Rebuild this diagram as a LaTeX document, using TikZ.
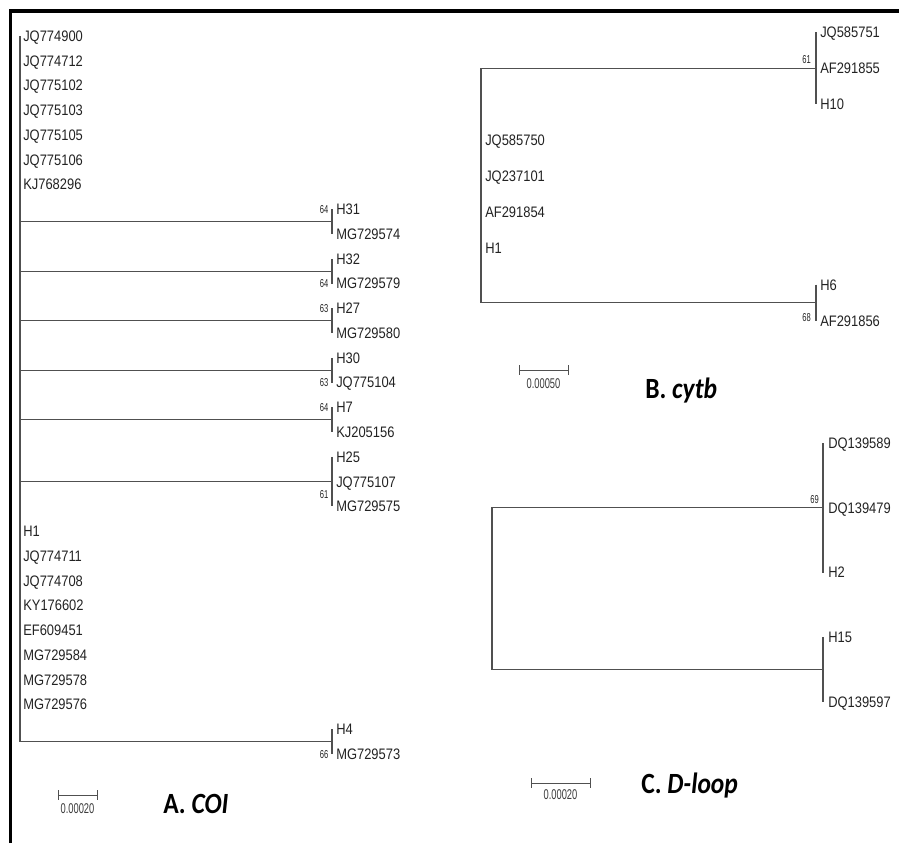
\documentclass[tikz,border=0pt]{standalone}
\usepackage{fontspec}
\newfontfamily\labfont[FakeStretch=0.85]{Liberation Sans}
\newfontfamily\sclfont[FakeStretch=0.66]{Liberation Sans}
\newfontfamily\ttlfont[FakeStretch=0.87]{Carlito}
\definecolor{txt}{RGB}{35,35,35}
\definecolor{linec}{RGB}{80,80,80}
\definecolor{sclc}{RGB}{60,60,60}
\begin{document}
\begin{tikzpicture}[x=0.75pt,y=-0.75pt,
  lab/.style={font=\labfont\fontsize{11.4pt}{13pt}\selectfont, text=txt, anchor=west, inner sep=0pt, text height=8pt, text depth=0pt},
  bs/.style={font=\sclfont\fontsize{8.6pt}{10pt}\selectfont, text=txt, anchor=east, inner sep=0pt, text height=6pt, text depth=0pt},
  scl/.style={font=\sclfont\fontsize{10.6pt}{12pt}\selectfont, text=sclc, anchor=base, inner sep=0pt},
  ttl/.style={font=\ttlfont\bfseries\fontsize{22pt}{24pt}\selectfont, text=black, anchor=base west, inner sep=0pt},
  br/.style={draw=linec, line width=0.8pt},
  sbar/.style={draw=linec, line width=0.75pt}]
\useasboundingbox (0,0) rectangle (899,843);
\fill[white] (0,0) rectangle (899,843);
% frame
\draw[line width=2.3pt, black] (10.5,843) -- (10.5,11) -- (899,11);

% ---------------- Panel A: COI ----------------
\foreach \r/\t/\xx in {1/JQ774900/23, 2/JQ774712/23, 3/JQ775102/23, 4/JQ775103/23,
  5/JQ775105/23, 6/JQ775106/23, 7/KJ768296/23, 8/H31/336, 9/MG729574/336,
  10/H32/336, 11/MG729579/336, 12/H27/336, 13/MG729580/336, 14/H30/336,
  15/JQ775104/336, 16/H7/336, 17/KJ205156/336, 18/H25/336, 19/JQ775107/336,
  20/MG729575/336, 21/H1/23, 22/JQ774711/23, 23/JQ774708/23, 24/KY176602/23,
  25/EF609451/23, 26/MG729584/23, 27/MG729578/23, 28/MG729576/23,
  29/H4/336, 30/MG729573/336}
  \node[lab] (a\r) at (\xx,{36+24.76*(\r-1)}) {\t};

\coordinate (A0) at (20,36);
\coordinate (kA1) at (332,221.7);
\coordinate (kA2) at (332,271.2);
\coordinate (kA3) at (332,320.8);
\coordinate (kA4) at (332,370.3);
\coordinate (kA5) at (332,419.8);
\coordinate (kA6) at (332,481.7);
\coordinate (kA7) at (332,741.7);
\draw[br] (A0) -- (kA7 -| A0) -- (kA7);
\foreach \k in {1,...,6} \draw[br] (kA\k -| A0) -- (kA\k);
\draw[br] (a8.west -| kA1) -- (a9.west -| kA1);
\draw[br] (a10.west -| kA2) -- (a11.west -| kA2);
\draw[br] (a12.west -| kA3) -- (a13.west -| kA3);
\draw[br] (a14.west -| kA4) -- (a15.west -| kA4);
\draw[br] (a16.west -| kA5) -- (a17.west -| kA5);
\draw[br] (a18.west -| kA6) -- (a20.west -| kA6);
\draw[br] (a29.west -| kA7) -- (a30.west -| kA7);

\node[bs] (bA1) at (328.5,209.3) {64};
\node[bs] (bA2) at (328.5,283.6) {64};
\node[bs] (bA3) at (328.5,308.4) {63};
\node[bs] (bA4) at (328.5,382.6) {63};
\node[bs] (bA5) at (328.5,407.4) {64};
\node[bs] (bA6) at (328.5,494.5) {61};
\node[bs] (bA7) at (328.5,754) {66};

\coordinate (sA1) at (58,795);
\coordinate (sA2) at (97,795);
\draw[sbar] (sA1) -- (sA2);
\draw[sbar] ([yshift=-3.5]sA1) -- ([yshift=3.5]sA1);
\draw[sbar] ([yshift=-3.5]sA2) -- ([yshift=3.5]sA2);
\node[scl] (lA) at (77.5,813) {0.00020};
\node[ttl] (tA) at (163,813) {A. \textit{COI}};

% ---------------- Panel B: cytb ----------------
\foreach \r/\t/\xx in {1/JQ585751/820, 2/AF291855/820, 3/H10/820,
  4/JQ585750/485, 5/JQ237101/485, 6/AF291854/485, 7/H1/485,
  8/H6/820, 9/AF291856/820}
  \node[lab] (b\r) at (\xx,{32+36.1*(\r-1)}) {\t};

\coordinate (B0) at (481,68.1);
\coordinate (kB1) at (816,68.1);
\coordinate (kB2) at (816,302.8);
\draw[br] (kB1) -- (B0) -- (kB2 -| B0) -- (kB2);
\draw[br] (b1.west -| kB1) -- (b3.west -| kB1);
\draw[br] (b8.west -| kB2) -- (b9.west -| kB2);
\node[bs] (bB1) at (811,59) {61};
\node[bs] (bB2) at (811,317) {68};

\coordinate (sB1) at (519,370);
\coordinate (sB2) at (568,370);
\draw[sbar] (sB1) -- (sB2);
\draw[sbar] ([yshift=-3.5]sB1) -- ([yshift=3.5]sB1);
\draw[sbar] ([yshift=-3.5]sB2) -- ([yshift=3.5]sB2);
\node[scl] (lB) at (543.5,388) {0.00050};
\node[ttl] (tB) at (645,398) {B. \textit{cytb}};

% ---------------- Panel C: D-loop ----------------
\foreach \r/\t in {1/DQ139589, 2/DQ139479, 3/H2, 4/H15, 5/DQ139597}
  \node[lab] (c\r) at (828,{443+64.75*(\r-1)}) {\t};

\coordinate (C0) at (492,507.75);
\coordinate (kC1) at (823,507.75);
\coordinate (kC2) at (823,669.6);
\draw[br] (kC1) -- (C0) -- (kC2 -| C0) -- (kC2);
\draw[br] (c1.west -| kC1) -- (c3.west -| kC1);
\draw[br] (c4.west -| kC2) -- (c5.west -| kC2);
\node[bs] (bC1) at (819,499) {69};

\coordinate (sC1) at (531,783);
\coordinate (sC2) at (590,783);
\draw[sbar] (sC1) -- (sC2);
\draw[sbar] ([yshift=-3.5]sC1) -- ([yshift=3.5]sC1);
\draw[sbar] ([yshift=-3.5]sC2) -- ([yshift=3.5]sC2);
\node[scl] (lC) at (560.5,799) {0.00020};
\node[ttl] (tC) at (641,793) {C. \textit{D-loop}};
\end{tikzpicture}
\end{document}
